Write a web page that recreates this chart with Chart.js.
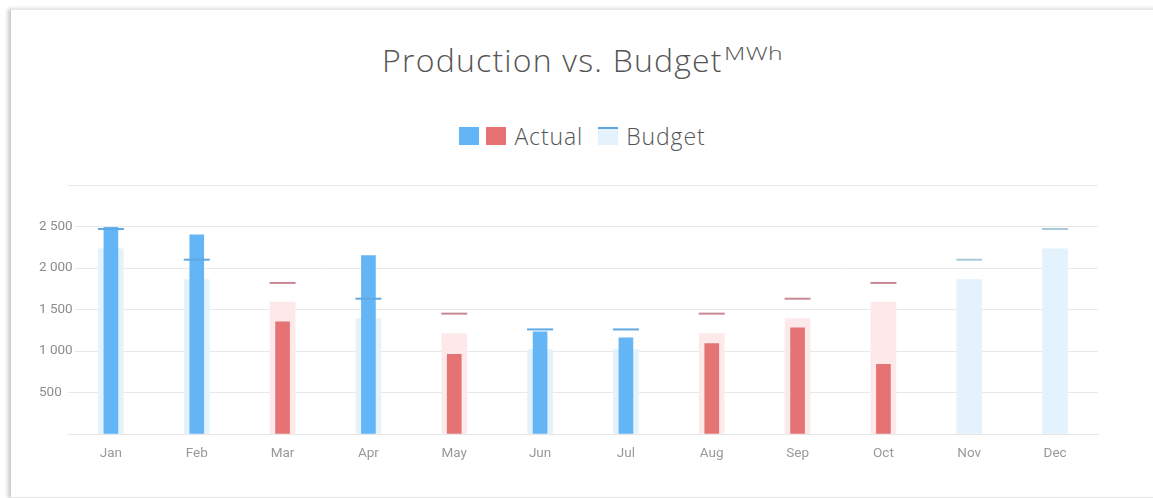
<!DOCTYPE html>
<html>
<head>
<meta charset="utf-8">
<script src="https://cdn.jsdelivr.net/npm/chart.js@4"></script>
<style>
  html,body{margin:0;padding:0;background:#fff;width:1153px;height:498px;overflow:hidden;}
  #card{position:absolute;left:10px;top:9px;width:1170px;height:487px;background:#fff;
    border-top:1px solid #e6e6e6;border-left:1px solid #cfcfcf;border-bottom:1px solid #e6e6e6;
    box-shadow:-2px 0 4px rgba(0,0,0,0.22);}
  #title{position:absolute;left:0;width:1165px;top:38px;text-align:center;
    font-family:"Open Sans",sans-serif;font-weight:300;font-size:32px;line-height:44px;color:#555;
    letter-spacing:1.2px;white-space:nowrap;}
  #title .unit{display:inline-block;font-size:18px;line-height:18px;letter-spacing:0.3px;position:relative;top:-12px;
    transform:scaleX(1.37);transform-origin:left bottom;margin-right:16px;margin-left:1px;}
  #legend{position:absolute;left:0;width:1165px;top:121px;display:flex;justify-content:center;align-items:center;
    font-family:"Open Sans",sans-serif;font-weight:300;font-size:23px;line-height:30px;color:#555;letter-spacing:0.9px;}
  .box{display:inline-block;width:20px;height:18px;box-sizing:border-box;}
  #wrap{position:absolute;left:10px;top:170px;width:1143px;height:300px;}
</style>
</head>
<body>
<div id="card"></div>
<div id="title">Production vs. Budget<span class="unit">MWh</span></div>
<div id="legend">
  <span class="box" style="background:#64B5F6;"></span>
  <span class="box" style="background:#E57373;margin-left:7px;"></span>
  <span style="margin-left:8px;">Actual</span>
  <span class="box" style="background:#E3F2FD;border-top:2px solid #5aa6e0;margin-left:15px;"></span>
  <span style="margin-left:8px;">Budget</span>
</div>
<div id="wrap"><canvas id="c"></canvas></div>
<script>
const months = ["Jan","Feb","Mar","Apr","May","Jun","Jul","Aug","Sep","Oct","Nov","Dec"];
const actual = [2490, 2400, 1350, 2150, 960, 1230, 1160, 1090, 1280, 840, null, null];
const budget = [2470, 2100, 1820, 1630, 1450, 1260, 1260, 1450, 1630, 1820, 2100, 2470];
const budgetLow = [2230, 1860, 1590, 1390, 1210, 1020, 1020, 1210, 1390, 1590, 1860, 2230];
const yTicks = [0, 500, 1000, 1500, 2000, 2500, 3000];

const status = months.map((m, i) => actual[i] == null ? "future" : (actual[i] >= budgetLow[i] ? "ok" : "low"));
const actualColor = status.map(s => s === "low" ? "#E57373" : "#64B5F6");
const bandColor = status.map(s => s === "low" ? "#FDE8EA" : "#E4F2FD");
const lineColor = status.map(s => s === "low" ? "#c98892" : (s === "future" ? "#a9cbd8" : "#5fa8e2"));

function fmt(v){ return String(v).replace(/\B(?=(\d{3})+(?!\d))/g, " "); }

new Chart(document.getElementById("c"), {
  type: "bar",
  data: {
    labels: months,
    datasets: [
      { type: "line", label: "Budget", data: budget, showLine: false, pointStyle: "line",
        pointRadius: 13, pointHoverRadius: 13, pointBorderWidth: 2, pointHoverBorderWidth: 2,
        pointBorderColor: lineColor, borderColor: lineColor, order: 0 },
      { label: "Actual", data: actual, backgroundColor: actualColor, barThickness: 14, grouped: false, order: 1 },
      { label: "Budget range", data: budgetLow, backgroundColor: bandColor, barThickness: 25, grouped: false, order: 2 }
    ]
  },
  options: {
    responsive: true, maintainAspectRatio: false, animation: false,
    layout: { padding: { left: 58, right: 55, top: 9, bottom: 0 } },
    plugins: { legend: { display: false }, tooltip: { enabled: false }, title: { display: false } },
    scales: {
      x: {
        offset: true,
        grid: { display: false, drawTicks: false },
        border: { color: "#e6e6e6", width: 1 },
        ticks: { color: "#999", font: { family: "Roboto", size: 13.5 }, padding: 12 },
        afterFit: s => { s.height = 36; }
      },
      y: {
        min: 0, max: 3000,
        afterBuildTicks: s => { s.ticks = yTicks.map(v => ({ value: v })); },
        grid: { color: "#e9e9e9", drawTicks: false },
        border: { display: false },
        ticks: {
          color: "#8c8c8c", font: { family: "Roboto", size: 13.5 }, mirror: true, crossAlign: "near", padding: -29,
          showLabelBackdrop: true, backdropColor: "#fff", backdropPadding: { top: 0, bottom: 0, left: 0, right: 2 },
          callback: v => (v === 0 || v === 3000) ? "" : fmt(v)
        },
        afterFit: s => { s.width = 0; }
      }
    }
  }
});
</script>
</body>
</html>
